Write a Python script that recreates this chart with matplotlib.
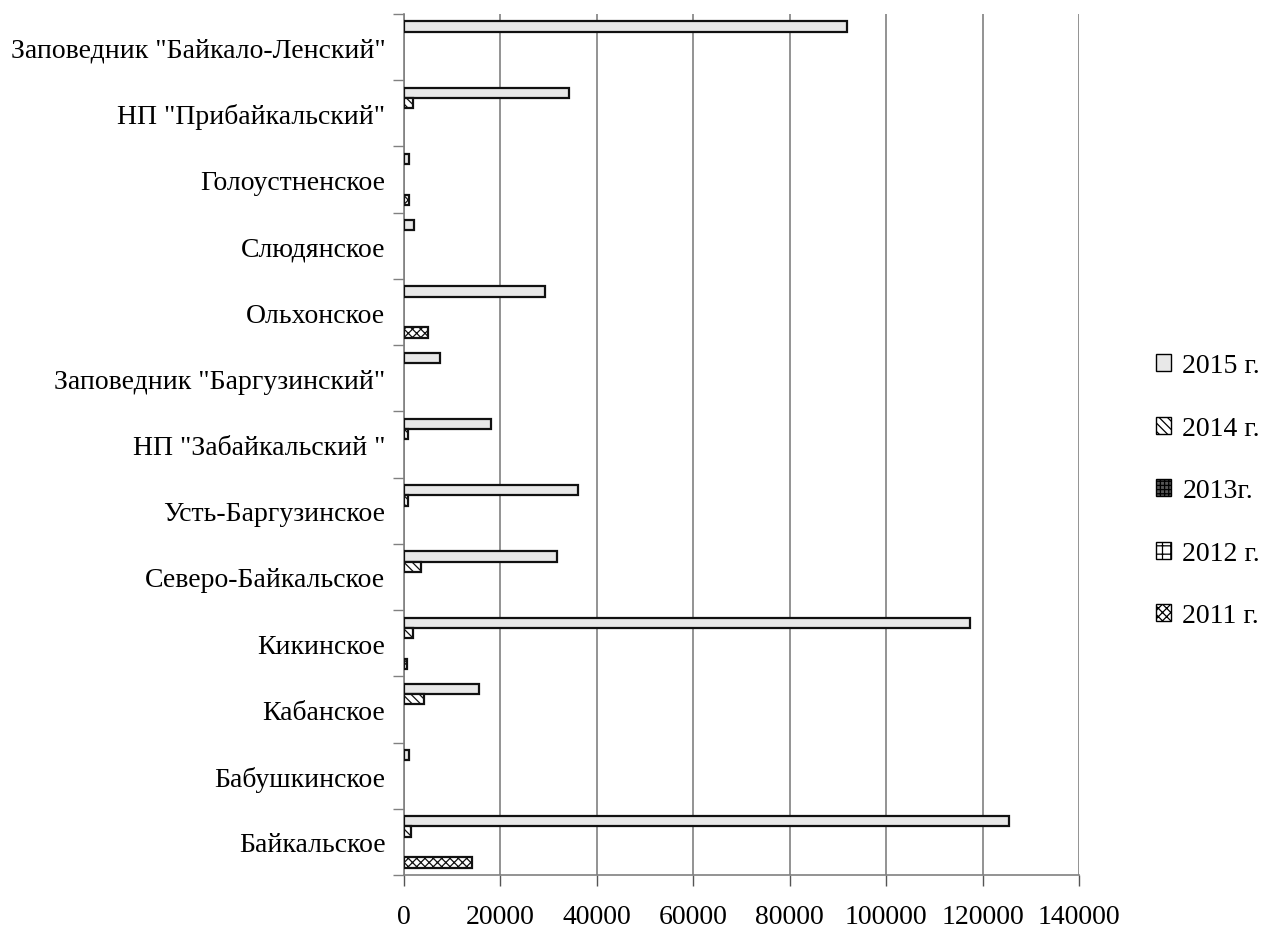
import numpy as np
import matplotlib
matplotlib.use("Agg")
import matplotlib.pyplot as plt
from matplotlib.patches import Patch

plt.rcParams['font.family'] = ['Liberation Serif', 'DejaVu Serif']
plt.rcParams['hatch.linewidth'] = 0.9

# categories listed bottom -> top
categories = ['Байкальское', 'Бабушкинское', 'Кабанское', 'Кикинское',
              'Северо-Байкальское', 'Усть-Баргузинское', 'НП "Забайкальский "',
              'Заповедник "Баргузинский"', 'Ольхонское', 'Слюдянское',
              'Голоустненское', 'НП "Прибайкальский"',
              'Заповедник "Байкало-Ленский"']

v2015 = [125500, 1200, 15600, 117500, 31900, 36200, 18200, 7600, 29300, 2200, 1200, 34400, 92000]
v2014 = [1550, None, 4300, 1900, 3600, 900, 900, None, None, None, None, 1900, None]
v2013 = [None] * 13
v2012 = [None] * 13
v2011 = [14200, None, None, 800, None, None, None, None, 5100, None, 1200, None, None]

series_labels = ['2015 г.', '2014 г.', '2013г.', '2012 г.', '2011 г.']
series = [v2015, v2014, v2013, v2012, v2011]
styles = [dict(facecolor='#e8e8e8', hatch=None),
          dict(facecolor='white', hatch='\\\\\\\\'),
          dict(facecolor='#555555', hatch='++++'),
          dict(facecolor='white', hatch='++'),
          dict(facecolor='white', hatch='xxxx')]

xticks = [0, 20000, 40000, 60000, 80000, 100000, 120000, 140000]

fig = plt.figure(figsize=(12.63, 9.28), dpi=100)
ax = fig.add_axes([403.5 / 1263, 1 - 876 / 928, (1079 - 403.5) / 1263, (876 - 15) / 928])

bh = 0.155
y = np.arange(len(categories))
for k, (vals, st) in enumerate(zip(series, styles)):
    arr = np.array([np.nan if v is None else v for v in vals], dtype=float)
    off = (2 - k) * bh
    ax.barh(y + off, arr, height=bh, facecolor=st['facecolor'], hatch=st['hatch'],
            edgecolor='#111111', linewidth=1.6, zorder=3)

FS = 20.0
ax.set_xlim(0, 140000)
ax.set_ylim(-0.5, len(categories) - 0.5)
ax.set_xticks(xticks)
ax.set_xticklabels([str(t) for t in xticks], fontsize=FS)
ax.set_yticks(y)
ax.set_yticklabels(categories, fontsize=FS)
ax.tick_params(axis='y', length=0, pad=13)
ax.set_yticks(np.arange(-0.5, len(categories), 1), minor=True)
ax.tick_params(axis='y', which='minor', length=8, color='#808080', width=1)
ax.tick_params(axis='x', length=8, width=1, color='#555555', pad=13)

ax.grid(axis='x', color='#808080', linewidth=1.2, zorder=0)
for s in ['top', 'right']:
    ax.spines[s].set_visible(False)
ax.spines['left'].set_color('#808080')
ax.spines['bottom'].set_color('#808080')
ax.spines['left'].set_linewidth(1.2)
ax.spines['bottom'].set_linewidth(1.2)

handles = [Patch(facecolor=st['facecolor'], hatch=st['hatch'], edgecolor='black', linewidth=1.0)
           for st in styles]
fig.legend(handles, series_labels, loc='center left', bbox_to_anchor=(1156 / 1263, 1 - 492 / 928),
           frameon=False, fontsize=FS, labelspacing=1.35, handlelength=0.55, handleheight=0.55,
           handletextpad=0.4, borderpad=0, borderaxespad=0)

fig.savefig('out.png', dpi=100)
